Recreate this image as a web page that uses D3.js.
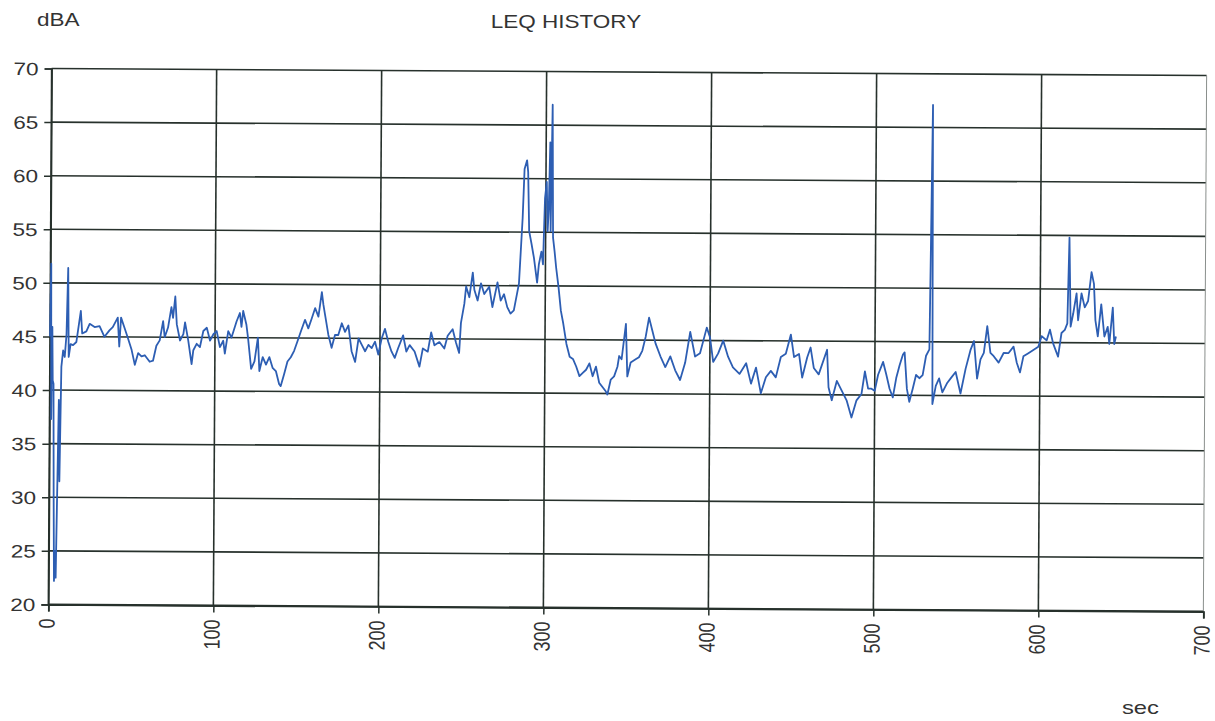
<!DOCTYPE html>
<html>
<head>
<meta charset="utf-8">
<script src="https://cdn.jsdelivr.net/npm/d3@7"></script>
<style>
  html, body { margin: 0; padding: 0; background: #ffffff; }
  svg { display: block; }
  text { font-family: "Liberation Sans", Arial, sans-serif; fill: #333333; }
</style>
</head>
<body>
<svg id="chart" width="1215" height="721"></svg>
<script>
// ---- data ----
const chartTitle = "LEQ HISTORY";
const yUnit = "dBA";
const xUnit = "sec";
const yTicks = [20, 25, 30, 35, 40, 45, 50, 55, 60, 65, 70];
const xTicks = [0, 100, 200, 300, 400, 500, 600, 700];

const seconds = [
  0, 0.5, 1.0, 1.4, 1.8, 2.3, 2.8, 3.3, 3.8, 4.3, 5.0, 5.6, 6.2, 7.0, 8.0, 9.0, 10.0, 10.8, 11.4, 12.5,
  14, 16, 18.6, 19.5, 22, 24, 27, 30, 33, 36, 38, 41, 42, 43, 45, 47, 49.5, 51.5, 53.5, 55.5,
  57.5, 60.5, 62.5, 64.5, 66.5, 68.5, 69.5, 71.5, 73.5, 74.5, 75.8, 76.8, 78.8, 80.8, 81.8, 83.8, 85.9, 86.9, 88.9, 90.9,
  92.9, 95, 97, 99, 101, 103, 105, 106, 108, 110, 113, 115, 116, 117, 119, 120, 122, 124, 126, 127,
  129, 131, 133, 135, 137, 139, 140, 142, 144, 146, 148, 150, 152, 154.5, 156.5, 158.5, 160.6, 162.6, 164.6, 165.6,
  166.6, 168.7, 170.7, 172.7, 174.7, 176.8, 178.8, 180.8, 182.8, 185, 187, 189, 191, 193, 195, 197, 199, 201, 203, 205,
  207, 209, 211, 214, 216, 218, 221, 224, 226, 229, 231, 233, 236, 239, 241, 244, 246, 248, 249, 251,
  252, 254, 256, 257, 259, 261, 263, 266, 268, 271, 273, 275, 277, 279, 281, 284, 286, 287, 288.5, 289.2,
  290, 291.5, 293, 295, 296, 297.5, 298.5, 299.5, 300.5, 301.2, 301.8, 302.5, 303, 303.8, 304.5, 305.5, 306.5, 308, 309.5, 311,
  313, 315, 317, 319, 321, 323, 325, 327, 329, 331, 333, 335, 337, 338, 340, 342, 344, 345, 346.5, 349,
  350, 352, 355, 357, 359, 361, 363, 365, 367, 370, 373, 376, 379, 382, 385, 388, 391, 394, 398, 400,
  402, 405, 408, 411, 414, 418, 422, 425, 428, 431, 434, 437, 440, 443, 446, 449, 451, 454, 456, 459,
  461, 463, 466, 471, 472, 474, 477, 480, 483, 486, 489, 492, 494, 496, 498, 500, 502, 505, 507, 509,
  511, 513, 515, 517, 518, 519.5, 521, 523, 525, 527, 529, 531, 533, 534.3, 535, 537, 539, 541, 544, 546,
  549, 552, 555, 558, 560, 562, 564, 566, 568, 570, 572, 575, 578, 581, 584, 586, 588, 590, 593, 596,
  599, 601, 604, 606, 608, 611, 613, 615, 616.5, 617.5, 618.5, 620, 622, 623, 625, 627, 629, 631, 632.5, 633.5,
  635, 637, 639, 641, 642, 644, 645, 646
];

const leq = [
  45, 51.8, 37.3, 45.9, 40.9, 40.6, 30, 22.2, 25, 22.5, 31.5, 39.1, 31.5, 42.2, 43.7, 43.1, 45.2, 51.4, 43.1, 44.3,
  44.2, 44.5, 47.4, 45.3, 45.5, 46.2, 45.9, 46, 45, 45.6, 45.9, 46.8, 44.1, 46.8, 45.9, 45, 43.8, 42.4, 43.5, 43.2,
  43.3, 42.7, 42.8, 44.2, 44.7, 46.5, 45, 45.9, 47.8, 46.8, 48.8, 46.2, 44.7, 45.3, 46.4, 44.7, 42.5, 43.8, 44.4, 44.1,
  45.6, 45.9, 44.7, 45.3, 45.6, 44.1, 44.7, 43.5, 45.6, 45, 46.5, 47.3, 46, 47.5, 46.2, 45, 42.1, 42.8, 45, 41.9,
  43.2, 42.5, 43.2, 42.2, 41.9, 40.7, 40.5, 41.6, 42.8, 43.2, 43.8, 44.7, 45.6, 46.7, 45.9, 46.8, 47.8, 47, 49.3, 48.1,
  47.2, 45.3, 44.1, 45.3, 45.3, 46.4, 45.6, 46.2, 43.8, 42.8, 45, 44.4, 43.8, 44.4, 44.1, 44.7, 43.5, 45, 45.9, 44.7,
  43.8, 43.2, 44.1, 45.3, 43.8, 44.4, 43.8, 42.4, 44.1, 43.8, 45.6, 44.4, 44.7, 44.1, 45.3, 45.9, 44.7, 43.7, 46.5, 48.3,
  49.9, 48.9, 51.2, 49.6, 48.6, 50.2, 49.2, 49.9, 48, 50.3, 48.6, 49.2, 48, 47.4, 47.7, 50.2, 56.3, 60.9, 61.7, 60.6,
  55.1, 53.9, 52.6, 50.3, 52, 53.2, 52, 58.2, 59.7, 55.1, 57.2, 63.4, 55.1, 66.9, 54.5, 53.2, 51.7, 49.9, 47.7, 46.5,
  44.6, 43.4, 43.2, 42.5, 41.6, 41.9, 42.2, 42.8, 41.6, 42.5, 41, 40.6, 40.2, 39.9, 41.3, 41.6, 42.5, 43.5, 43.2, 46.5,
  41.6, 42.9, 43.2, 43.4, 44, 45.3, 47.1, 45.9, 44.7, 43.5, 42.5, 43.5, 42.2, 41.3, 42.9, 45.8, 43.5, 43.8, 46.2, 45.3,
  43, 43.8, 45, 43.5, 42.5, 41.9, 42.9, 41, 42.5, 40.1, 41.6, 42.2, 41.6, 43.5, 43.8, 45.6, 43.5, 43.8, 41.6, 43.5,
  44.4, 42.5, 41.9, 44.2, 40.7, 39.5, 41.3, 40.4, 39.5, 37.9, 39.5, 40.1, 42.2, 40.6, 40.6, 40.4, 41.9, 43.1, 41.9, 40.6,
  39.8, 41.6, 42.8, 43.8, 44, 40.6, 39.4, 40.6, 41.9, 41.6, 41.9, 43.7, 44.3, 67.1, 39.2, 40.9, 41.6, 40.3, 41.2, 41.6,
  42.2, 40.2, 42.5, 44.3, 45.1, 41.6, 43.4, 44, 46.5, 44, 43.7, 43.1, 44, 44, 44.6, 43.1, 42.2, 43.7, 44, 44.3,
  44.6, 45.6, 45.2, 46.2, 44.9, 43.7, 45.9, 46.2, 46.8, 54.8, 46.5, 47.7, 49.6, 47.1, 49.6, 48.3, 48.9, 51.6, 50.5, 47.1,
  45.6, 48.6, 45.6, 46.5, 44.9, 48.3, 44.9, 45.6
];

// ---- layout ----
const W = 1215, H = 721;
const plot = { left: 50, right: 1205, top: 72, bottom: 608 };
const textStretch = 1.25;   // the scanned reference is stretched horizontally
const tilt = 0.35;          // the scanned reference is rotated slightly

const svg = d3.select("#chart");
svg.append("rect").attr("width", W).attr("height", H).attr("fill", "#ffffff");

const x = d3.scaleLinear().domain([0, 700]).range([plot.left, plot.right]);
const y = d3.scaleLinear().domain([20, 70]).range([plot.bottom, plot.top]);

const cx = (plot.left + plot.right) / 2, cy = (plot.top + plot.bottom) / 2;
const g = svg.append("g").attr("transform", `rotate(${tilt},${cx},${cy})`);

const gridColor = "#27312c";

// horizontal gridlines
g.append("g").selectAll("line").data(yTicks).join("line")
  .attr("x1", plot.left).attr("x2", plot.right)
  .attr("y1", d => y(d)).attr("y2", d => y(d))
  .attr("stroke", gridColor).attr("stroke-width", d => d === 20 ? 1.8 : 1.6);

// vertical gridlines
g.append("g").selectAll("line").data(xTicks).join("line")
  .attr("x1", d => x(d)).attr("x2", d => x(d))
  .attr("y1", plot.top).attr("y2", plot.bottom)
  .attr("stroke", d => d === 700 ? "#8a8f8c" : gridColor)
  .attr("stroke-width", d => d === 700 ? 1 : 1.6);

// y axis (ticks + labels)
const yAxis = d3.axisLeft(y).tickValues(yTicks).tickSize(7).tickPadding(0).tickFormat(d3.format("d"));
const yAxisG = g.append("g").attr("transform", `translate(${plot.left},0)`).call(yAxis);
yAxisG.select(".domain").attr("stroke", gridColor).attr("stroke-width", 1.6);
yAxisG.selectAll(".tick line").attr("stroke", gridColor).attr("stroke-width", 1.5);
yAxisG.selectAll(".tick text")
  .attr("x", 0).attr("dy", "0.35em")
  .attr("transform", `translate(-13,0) scale(${textStretch},1)`)
  .attr("text-anchor", "end")
  .style("font-size", "18px").style("font-family", "'Liberation Sans', Arial, sans-serif")
  .attr("fill", "#333333");

// x axis (ticks + rotated labels)
const xAxis = d3.axisBottom(x).tickValues(xTicks).tickSize(7).tickPadding(0).tickFormat(d3.format("d"));
const xAxisG = g.append("g").attr("transform", `translate(0,${plot.bottom})`).call(xAxis);
xAxisG.select(".domain").attr("stroke", gridColor).attr("stroke-width", 1.8);
xAxisG.selectAll(".tick line").attr("stroke", gridColor).attr("stroke-width", 1.5);
xAxisG.selectAll(".tick text")
  .attr("x", 0).attr("y", 0).attr("dy", "0.35em")
  .attr("text-anchor", "end")
  .attr("transform", `translate(-2,14) scale(${textStretch},1) rotate(-90)`)
  .style("font-size", "18px").style("font-family", "'Liberation Sans', Arial, sans-serif")
  .attr("fill", "#333333");

// LEQ line
const pts = seconds.map((s, i) => [s, leq[i]]);
const line = d3.line().x(d => x(d[0])).y(d => y(d[1]));
g.append("path").datum(pts)
  .attr("d", line)
  .attr("fill", "none")
  .attr("stroke", "#2d5eb3")
  .attr("stroke-width", 1.8)
  .attr("stroke-linejoin", "round");

// titles
function stretchedText(tx, ty, str, size, anchor) {
  svg.append("text")
    .attr("transform", `translate(${tx},${ty}) scale(${textStretch},1)`)
    .attr("text-anchor", anchor)
    .style("font-size", size + "px")
    .attr("fill", "#333333")
    .text(str);
}
stretchedText(37, 26, yUnit, 18, "start");
stretchedText(566, 28, chartTitle, 18, "middle");
stretchedText(1122, 714, xUnit, 19, "start");
</script>
</body>
</html>
